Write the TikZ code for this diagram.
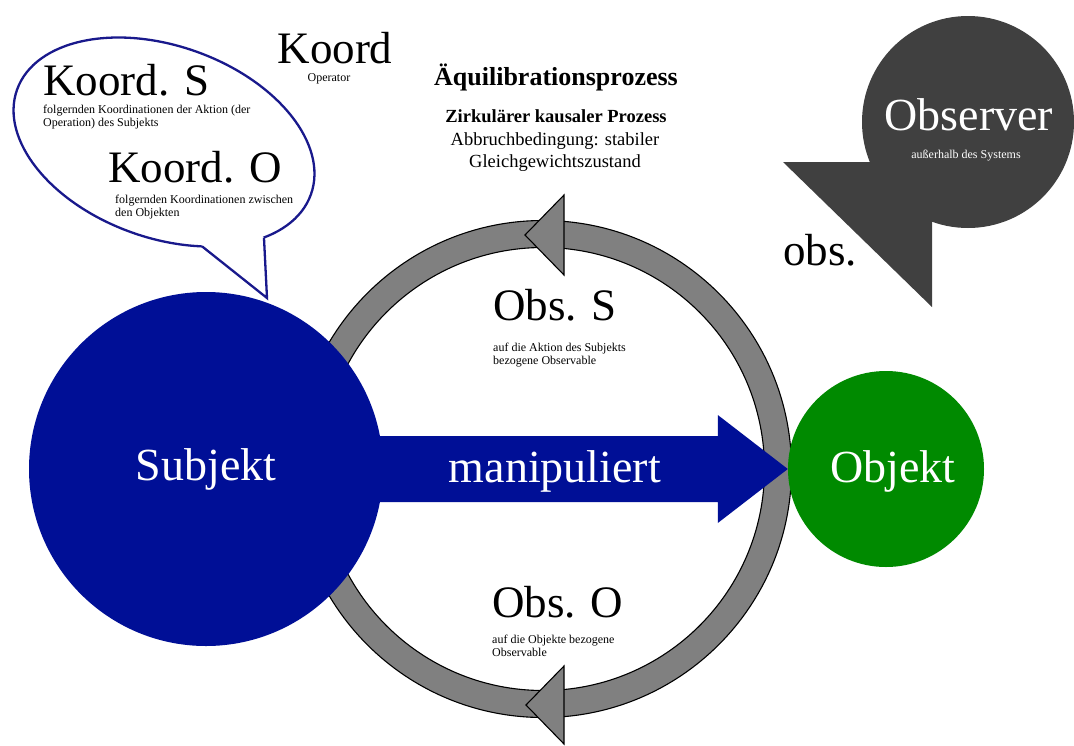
\documentclass[tikz,border=0pt]{standalone}
\usepackage{fontspec}
\setmainfont{Liberation Serif}
\usetikzlibrary{calc}
\definecolor{subjblue}{RGB}{0,15,150}
\definecolor{objgreen}{RGB}{0,138,0}
\definecolor{obsgray}{RGB}{64,64,64}
\definecolor{ringgray}{RGB}{128,128,128}
\definecolor{bubbleblue}{RGB}{25,25,140}
\begin{document}
\begin{tikzpicture}[x=1pt,y=-1pt,
  lbl/.style={font=\fontsize{45}{45}\selectfont, inner sep=0pt, anchor=base west},
  note/.style={font=\fontsize{12}{13}\selectfont, inner sep=0pt, anchor=north west, align=left},
  heavy/.style={font=\fontsize{46}{46}\selectfont, text=white, inner sep=0pt},
  headline/.style={font=\bfseries\fontsize{18.5}{18.5}\selectfont, inner sep=0pt, anchor=base},
  plainline/.style={font=\fontsize{18.5}{18.5}\selectfont, inner sep=0pt, anchor=base},
  ringhead/.style={fill=ringgray, draw=black, line width=1.1pt, line join=miter},
]
\useasboundingbox (0,0) rectangle (1074,745);
\fill[white] (0,0) rectangle (1074,745);

% circular process ring with its two arrow heads
\fill[ringgray, draw=black, line width=1.1pt, even odd rule]
  (543,469) circle[radius=248.5] (543,469) circle[radius=221.5];
\filldraw[ringhead] (525,235) -- (564,195) -- (564,275) -- cycle;
\filldraw[ringhead] (526,705) -- (564,666) -- (564,744) -- cycle;

% speech bubble of the subject
\begin{scope}[shift={(164,142)}, rotate=-19.6]
  \fill[white] (0,0) ellipse[x radius=156, y radius=96];
  \draw[bubbleblue, line width=2.3pt] (0,0) ellipse[x radius=156, y radius=96];
  \coordinate (bA) at (63:156 and 96);
  \coordinate (bB) at (36:156 and 96);
  \coordinate (bC) at (0,0);
\end{scope}
\coordinate (btip) at (267,298);
\fill[white] (bA) -- (btip) -- (bB) -- (bC) -- cycle;
\draw[bubbleblue, line width=2.3pt, line join=miter] (bA) -- (btip) -- (bB);

% subject, manipulation arrow, object
\node[circle, fill=subjblue, minimum size=354pt, inner sep=0pt,
      text=white, font=\fontsize{46}{46}\selectfont] (subj) at (206,469) {Subjekt};
\node[circle, fill=objgreen, minimum size=196pt, inner sep=0pt] (obj) at (886,469) {};
\coordinate (tip) at (obj.west);
\fill[subjblue] ($(subj.east)+(-30,-33)$) -- ($(tip)+(-70,-33)$) -- ($(tip)+(-70,-54)$)
  -- (tip) -- ($(tip)+(-70,54)$) -- ($(tip)+(-70,33)$) -- ($(subj.east)+(-30,33)$) -- cycle;
\node[heavy, anchor=base] (manip) at (555,482) {manipuliert};
\node[heavy, anchor=base] (objtext) at (893,482) {Objekt};

% outside observer
\node[circle, fill=obsgray, minimum size=212pt, inner sep=0pt] (observer) at (968,122) {};
\fill[obsgray] (783,162) -- (878,162) -- (932,200) -- (932,307) -- cycle;
\node[heavy, anchor=base] (observertext) at (969,130) {Observer};
\node[font=\fontsize{12}{12}\selectfont, text=white, inner sep=0pt, anchor=base] (observernote) at (966,158) {außerhalb des Systems};
\node[lbl] (obs) at (783,265) {obs.};

% coordinations
\node[lbl, anchor=base] (koord) at (335,63) {Koord};
\node[note, anchor=base] (operator) at (329,81) {Operator};
\node[lbl] (koords) at (43,95) {Koord. S};
\node[note] (koordsnote) at (43,104.5) {folgernden Koordinationen der Aktion (der\\Operation) des Subjekts};
\node[lbl] (koordo) at (108,182) {Koord. O};
\node[note] (koordonote) at (115,194.5) {folgernden Koordinationen zwischen\\den Objekten};

% equilibration process
\node[font=\bfseries\fontsize{26}{26}\selectfont, inner sep=0pt, anchor=base] (title) at (556,85) {Äquilibrationsprozess};
\node[headline] (circular) at (556,122) {Zirkulärer kausaler Prozess};
\node[plainline] (stop1) at (555,145) {Abbruchbedingung: stabiler};
\node[plainline] (stop2) at (555,167) {Gleichgewichtszustand};

% observables
\node[lbl] (obss) at (493,320) {Obs. S};
\node[note] (obssnote) at (493,342.5) {auf die Aktion des Subjekts\\bezogene Observable};
\node[lbl] (obso) at (492,617) {Obs. O};
\node[note] (obsonote) at (492,634.5) {auf die Objekte bezogene\\Observable};
\end{tikzpicture}
\end{document}
